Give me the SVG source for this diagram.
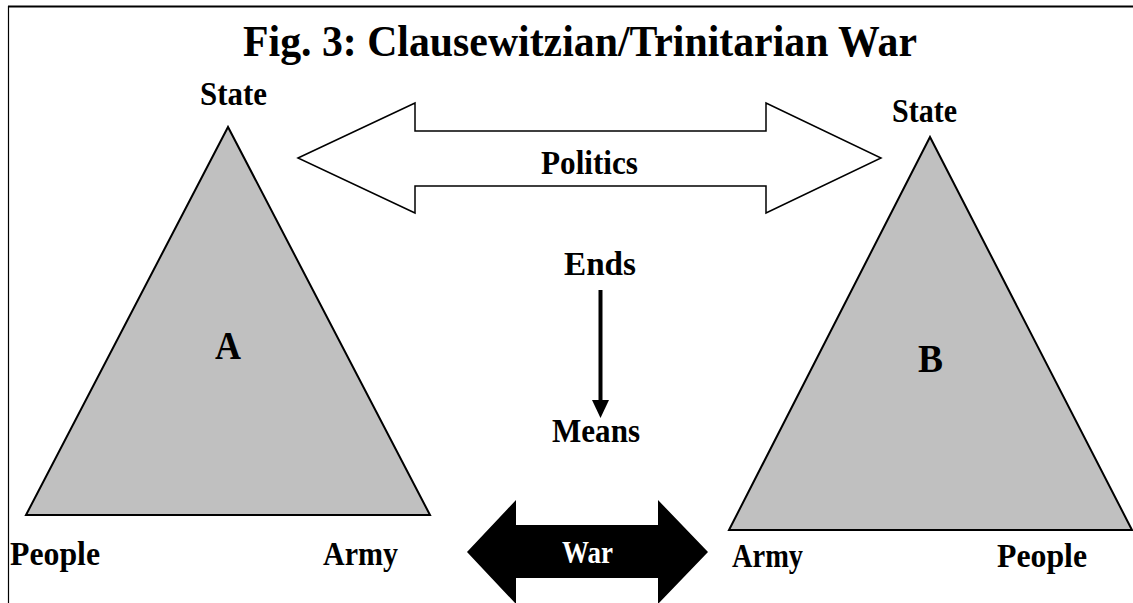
<svg xmlns="http://www.w3.org/2000/svg" width="1133" height="603" viewBox="0 0 1133 603">
<style>
.t{font-family:"Liberation Serif","Times New Roman",serif;font-weight:bold;fill:#000}
.lbl{font-size:34px}
.tri{fill:#c0c0c0;stroke:#000;stroke-width:2;stroke-linejoin:miter}
</style>
<rect width="1133" height="603" fill="#fff"/>
<g id="frame">
<line x1="8" y1="6.5" x2="1133" y2="6.5" stroke="#000" stroke-width="2"/>
<line x1="8.5" y1="6" x2="8.5" y2="603" stroke="#000" stroke-width="1.2"/>
</g>
<text id="title" class="t" x="243" y="56" font-size="44" textLength="674" lengthAdjust="spacingAndGlyphs">Fig. 3: Clausewitzian/Trinitarian War</text>
<g id="triangleA">
<polygon class="tri" points="228,127 26,515 430,515"/>
<text class="t" x="215" y="359" font-size="40" textLength="26" lengthAdjust="spacingAndGlyphs">A</text>
</g>
<g id="triangleB">
<polygon class="tri" points="930,137 729,530 1132,530"/>
<text class="t" x="918" y="372" font-size="40" textLength="25" lengthAdjust="spacingAndGlyphs">B</text>
</g>
<g id="labels">
<text class="t lbl" x="200" y="105" textLength="67" lengthAdjust="spacingAndGlyphs">State</text>
<text class="t lbl" x="892" y="122" textLength="65" lengthAdjust="spacingAndGlyphs">State</text>
<text class="t lbl" x="10" y="565" textLength="90" lengthAdjust="spacingAndGlyphs">People</text>
<text class="t lbl" x="323" y="565" textLength="75" lengthAdjust="spacingAndGlyphs">Army</text>
<text class="t lbl" x="732" y="567" textLength="71" lengthAdjust="spacingAndGlyphs">Army</text>
<text class="t lbl" x="997" y="567" textLength="90" lengthAdjust="spacingAndGlyphs">People</text>
</g>
<g id="connectors">
<polygon id="politics-arrow" points="298,158 415,103 415,131 766,131 766,103 881,158 766,213 766,186 415,186 415,213" fill="#fff" stroke="#000" stroke-width="1.5"/>
<polygon id="war-arrow" points="467,552 516,500 516,525 658,525 658,500 708,552 658,604 658,578 516,578 516,604" fill="#000"/>
<line x1="600.5" y1="290" x2="600.5" y2="402" stroke="#000" stroke-width="4"/>
<polygon points="592,400 609,400 600.5,418" fill="#000"/>
</g>
<g id="connector-labels">
<text class="t lbl" x="541" y="174" textLength="97" lengthAdjust="spacingAndGlyphs">Politics</text>
<text class="t" x="562" y="563" font-size="32" textLength="51" lengthAdjust="spacingAndGlyphs" style="fill:#fff">War</text>
<text class="t lbl" x="564" y="275" textLength="72" lengthAdjust="spacingAndGlyphs">Ends</text>
<text class="t lbl" x="552" y="442" textLength="88" lengthAdjust="spacingAndGlyphs">Means</text>
</g>
</svg>
